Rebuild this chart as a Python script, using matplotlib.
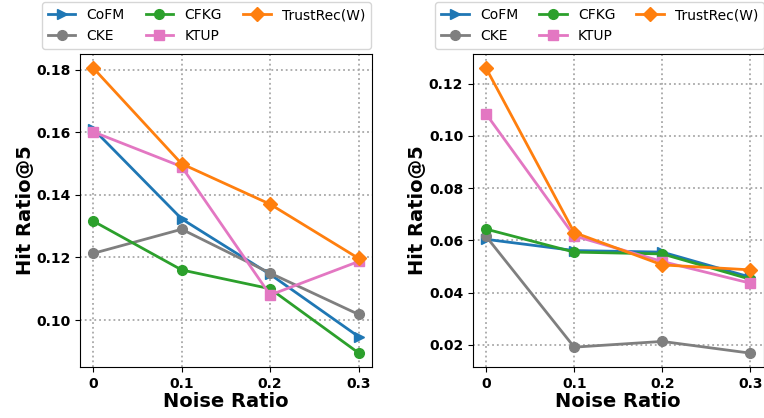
import matplotlib
matplotlib.use("Agg")
import matplotlib.pyplot as plt

noise = [0, 0.1, 0.2, 0.3]
noise_labels = ["0", "0.1", "0.2", "0.3"]
methods = ["CoFM", "CKE", "CFKG", "KTUP", "TrustRec(W)"]

# left panel
hr_left = {
    "CoFM": [0.161, 0.1323, 0.1146, 0.0947],
    "CKE": [0.1213, 0.129, 0.115, 0.1018],
    "CFKG": [0.1316, 0.116, 0.110, 0.0895],
    "KTUP": [0.1601, 0.149, 0.108, 0.1187],
    "TrustRec(W)": [0.1805, 0.1499, 0.137, 0.1197],
}
# right panel
hr_right = {
    "CoFM": [0.0604, 0.0561, 0.0555, 0.0459],
    "CKE": [0.0615, 0.0191, 0.0213, 0.0168],
    "CFKG": [0.0643, 0.0555, 0.0548, 0.0451],
    "KTUP": [0.1084, 0.0617, 0.0519, 0.0436],
    "TrustRec(W)": [0.1259, 0.063, 0.0506, 0.0487],
}

colors = ["tab:blue", "tab:gray", "tab:green", "tab:pink", "tab:orange"]
markers = [">", "o", "o", "s", "D"]

fig = plt.figure(figsize=(7.64, 4.18), dpi=100)
ax1 = fig.add_axes([0.1047, 0.122, 0.382, 0.749])
ax2 = fig.add_axes([0.619, 0.122, 0.3805, 0.749])

for ax, data, ylim, yticks, lcx in [
    (ax1, hr_left, (0.085, 0.185), [0.10, 0.12, 0.14, 0.16, 0.18], 0.433),
    (ax2, hr_right, (0.0115, 0.1314), [0.02, 0.04, 0.06, 0.08, 0.10, 0.12], 0.436),
]:
    for m, c, mk in zip(methods, colors, markers):
        ax.plot(noise, data[m], color=c, marker=mk, markersize=7, linewidth=2, label=m)
    ax.set_ylim(*ylim)
    ax.set_yticks(yticks)
    ax.set_yticklabels(["%.2f" % v for v in yticks], fontsize=10, fontweight="bold")
    ax.set_xticks(noise)
    ax.set_xticklabels(noise_labels, fontsize=10, fontweight="bold")
    ax.grid(True, linestyle=":", color="#a8a8a8", linewidth=1.3)
    ax.set_xlabel("Noise Ratio", fontsize=14, fontweight="bold", labelpad=1)
    ax.set_ylabel("Hit Ratio@5", fontsize=14, fontweight="bold", labelpad=1)
    ax.legend(ncol=3, loc="lower center", bbox_to_anchor=(lcx, 0.995), fontsize=10,
              handlelength=2, columnspacing=1.5)

fig.savefig("out.png", dpi=100)
